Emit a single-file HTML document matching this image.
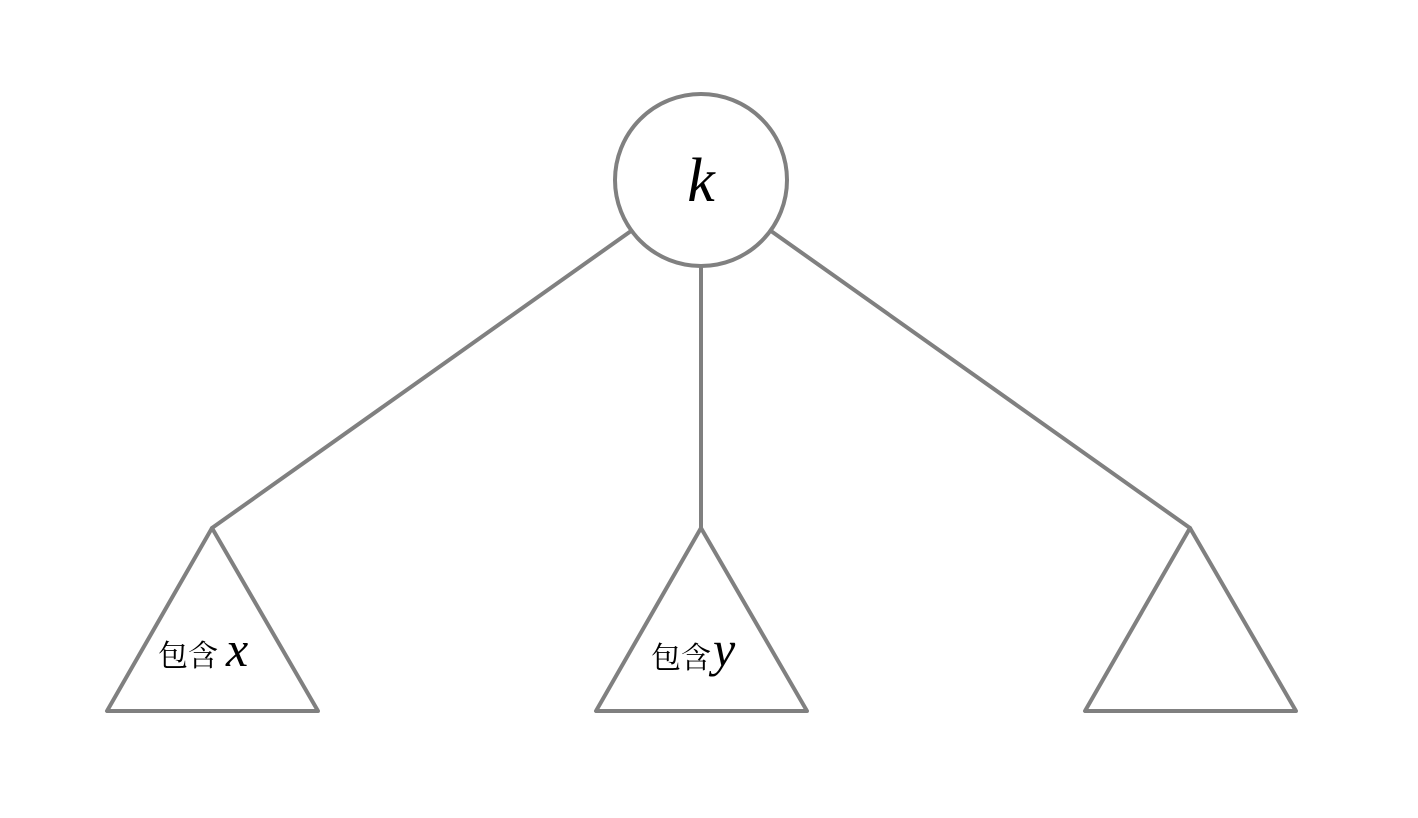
<!DOCTYPE html>
<html><head><meta charset="utf-8"><style>body{margin:0;background:#fff}</style></head><body>
<svg width="1418" height="813" xmlns="http://www.w3.org/2000/svg">
<g stroke="#808080" stroke-width="4" fill="none" stroke-linecap="round" stroke-linejoin="round">
<circle cx="701" cy="180" r="86"/>
<line x1="631" y1="231" x2="212" y2="528"/>
<line x1="701" y1="266" x2="701" y2="528"/>
<line x1="771" y1="231" x2="1190" y2="528"/>
<polygon points="212,528 107,711 318,711"/>
<polygon points="701,528 596,711 807,711"/>
<polygon points="1190,528 1085,711 1296,711"/>
</g>
<text x="701" y="201" font-family="Liberation Serif, serif" font-style="italic" font-size="62" text-anchor="middle">k</text>
<text x="158" y="666" font-family="Liberation Serif, 'Noto Serif CJK SC', serif" font-size="30">包含</text>
<text x="226" y="666" font-family="Liberation Serif, serif" font-style="italic" font-size="50">x</text>
<text x="651" y="668" font-family="Liberation Serif, 'Noto Serif CJK SC', serif" font-size="30">包含</text>
<text x="713" y="666" font-family="Liberation Serif, serif" font-style="italic" font-size="50">y</text>
</svg>
</body></html>
